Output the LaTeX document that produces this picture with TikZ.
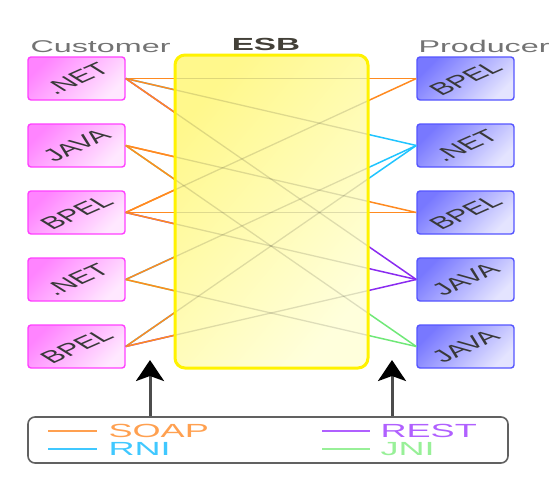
\documentclass[tikz,border=0pt]{standalone}
\usepackage{graphicx}
\usepackage{fontspec}
\setmainfont{Liberation Sans}
\usetikzlibrary{positioning,calc,arrows.meta}

\definecolor{custedge}{HTML}{FF40FF}
\definecolor{custtop}{HTML}{FF84FF}
\definecolor{custbot}{HTML}{FFE8FF}
\definecolor{prodedge}{HTML}{5555FF}
\definecolor{prodtop}{HTML}{7878FF}
\definecolor{prodbot}{HTML}{E4E4FF}
\definecolor{esbedge}{HTML}{FFF200}
\definecolor{esbtop}{HTML}{FFF88C}
\definecolor{esbbot}{HTML}{FFFFDC}
\definecolor{soapc}{HTML}{FF8A20}
\definecolor{rnic}{HTML}{20C4FF}
\definecolor{restc}{HTML}{8A2BF0}
\definecolor{jnic}{HTML}{70E878}
\definecolor{soapt}{HTML}{FFA050}
\definecolor{rnit}{HTML}{40C8FF}
\definecolor{restt}{HTML}{B060FF}
\definecolor{jnit}{HTML}{98F098}

\newcommand{\wide}[1]{\scalebox{1.9}[1]{#1}}
\newcommand{\tilt}[1]{\scalebox{1.9}[1]{\rotatebox{40}{#1}}}

\begin{document}
\begin{tikzpicture}[
  x=1pt, y=-1pt,
  node distance = 67pt,
  cbox/.style={rectangle, rounded corners=3pt, draw=custedge, line width=1.4pt,
    minimum width=97pt, minimum height=43pt, inner sep=0pt, text=black!78,
    top color=custtop, bottom color=custbot, shading angle=45,
    font=\fontsize{17}{17}\selectfont},
  pbox/.style={cbox, draw=prodedge, top color=prodtop, bottom color=prodbot, shading angle=45},
  head/.style={anchor=base west, text=black!55, font=\fontsize{17}{17}\selectfont},
  bus/.style={rectangle, rounded corners=10pt, minimum width=193pt, minimum height=313pt,
    inner sep=0pt, outer sep=0pt, top color=esbtop, bottom color=esbbot, shading angle=50},
  link/.style={line width=1.5pt},
  ghost/.style={line width=1.3pt, black, opacity=0.13},
  uparw/.style={-{Stealth[length=21pt, width=28pt, inset=5pt, black]}, line width=3pt, black!70},
  lgtext/.style={anchor=base west, font=\fontsize{19}{19}\selectfont}
  ]

\useasboundingbox (0,0) rectangle (555,480);

\node [cbox] (c1) at (76.5,78.5) {\tilt{.NET}};
\node [cbox, below of=c1] (c2) {\tilt{JAVA}};
\node [cbox, below of=c2] (c3) {\tilt{BPEL}};
\node [cbox, below of=c3] (c4) {\tilt{.NET}};
\node [cbox, below of=c4] (c5) {\tilt{BPEL}};

\node [pbox] (p1) at (465.5,78.5) {\tilt{BPEL}};
\node [pbox, below of=p1] (p2) {\tilt{.NET}};
\node [pbox, below of=p2] (p3) {\tilt{BPEL}};
\node [pbox, below of=p3] (p4) {\tilt{JAVA}};
\node [pbox, below of=p4] (p5) {\tilt{JAVA}};

\node [head] (cust) at (27,52) {\wide{Customer}};
\node [head] (prod) at (415,52) {\wide{Producer}};
\node [anchor=base, text=black!85!yellow, font=\fontsize{17.5}{17.5}\selectfont\bfseries] (esbl) at (266,50) {\wide{ESB}};

\foreach \l/\r/\c in {c1/p1/soapc, c1/p2/rnic, c1/p4/restc, c2/p3/soapc, c2/p5/jnic,
    c3/p1/soapc, c3/p3/soapc, c3/p4/restc, c4/p2/rnic, c4/p5/jnic, c5/p2/rnic, c5/p4/restc} {
  \draw [link, \c] (\l.east) -- (\r.west);
  \draw [link, soapc] (\l.east) -- ($(\l.east)!0.5!(\r.west)$);
}

\node [bus] (esb) at (271.5,211.5) {};
\begin{scope}
  \clip [rounded corners=10pt] (esb.north west) rectangle (esb.south east);
  \foreach \l/\r in {c1/p1, c1/p2, c1/p4, c2/p3, c2/p5, c3/p1, c3/p3, c3/p4, c4/p2, c4/p5, c5/p2, c5/p4}
    \draw [ghost] (\l.east) -- (\r.west);
\end{scope}
\draw [esbedge, line width=3pt, rounded corners=10pt] (esb.north west) rectangle (esb.south east);

\node [rectangle, rounded corners=7pt, draw=black!62, line width=1.6pt, minimum width=480pt,
  minimum height=46pt, inner sep=0pt] (legend) at (268,440) {};

\node [lgtext, text=soapt] (soap) at (105,437) {\wide{SOAP}};
\node [lgtext, text=rnit] (rni) at (105,455) {\wide{RNI}};
\node [lgtext, text=restt] (rest) at (377,437) {\wide{REST}};
\node [lgtext, text=jnit] (jni) at (377,455) {\wide{JNI}};

\draw [link, soapt] ([shift={(-57pt,6pt)}]soap.base west) -- ([shift={(-8pt,6pt)}]soap.base west);
\draw [link, rnit] ([shift={(-57pt,6pt)}]rni.base west) -- ([shift={(-8pt,6pt)}]rni.base west);
\draw [link, restt] ([shift={(-55pt,6pt)}]rest.base west) -- ([shift={(-7pt,6pt)}]rest.base west);
\draw [link, jnit] ([shift={(-55pt,6pt)}]jni.base west) -- ([shift={(-7pt,6pt)}]jni.base west);

\coordinate (lt) at (150,360);
\coordinate (rt) at (392,360);
\draw [uparw] (legend.north -| lt) -- (lt);
\draw [uparw] (legend.north -| rt) -- (rt);

\end{tikzpicture}
\end{document}
